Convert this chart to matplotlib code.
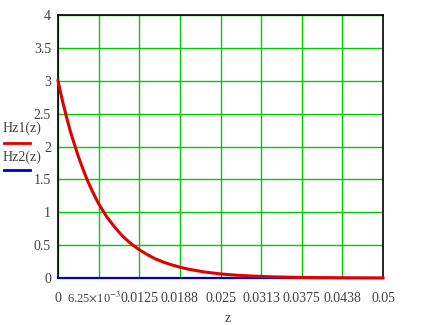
import matplotlib
matplotlib.use("Agg")
import matplotlib.pyplot as plt
import matplotlib.transforms as mtransforms
from matplotlib.lines import Line2D

# valori
z = [0.0, 0.000625, 0.00125, 0.001875, 0.0025, 0.003125, 0.00375, 0.004375,
     0.005, 0.005625, 0.00625, 0.006875, 0.0075, 0.008125, 0.00875, 0.009375,
     0.01, 0.01125, 0.0125, 0.01375, 0.015, 0.01625, 0.0175, 0.01875, 0.02,
     0.0225, 0.025, 0.0275, 0.03, 0.0325, 0.035, 0.0375, 0.04, 0.045, 0.05]
hz1 = [3.0, 2.72, 2.47, 2.24, 2.04, 1.85, 1.68, 1.52,
       1.38, 1.25, 1.13, 1.03, 0.93, 0.85, 0.77, 0.70,
       0.63, 0.52, 0.43, 0.355, 0.29, 0.24, 0.20, 0.165, 0.135,
       0.092, 0.062, 0.042, 0.029, 0.019, 0.013, 0.009, 0.006, 0.003, 0.001]
hz2 = [0.0] * len(z)

xticks = [0, 0.00625, 0.0125, 0.01875, 0.025, 0.03125, 0.0375, 0.04375, 0.05]
xticklabels = ["0", r"6.25$\times$10$^{-3}$", "0.0125", "0.0188", "0.025",
               "0.0313", "0.0375", "0.0438", "0.05"]
yticks = [0, 0.5, 1, 1.5, 2, 2.5, 3, 3.5, 4]
yticklabels = ["0", "0.5", "1", "1.5", "2", "2.5", "3", "3.5", "4"]

plt.rcParams['font.family'] = ['Liberation Serif', 'DejaVu Serif']
plt.rcParams['mathtext.fontset'] = 'stix'

txt = '#404040'
fig = plt.figure(figsize=(4.24, 3.25), dpi=100)
ax = fig.add_axes([58 / 424, 47 / 325, 325 / 424, 263 / 325])

ax.plot(z, hz2, color='#0000c0', lw=1.6, zorder=3, clip_on=False)
ax.plot(z, hz1, color='#e00000', lw=2.2, zorder=4, clip_on=False)

ax.set_xlim(0, 0.05)
ax.set_ylim(0, 4)
ax.set_xticks(xticks)
ax.set_xticklabels(xticklabels, va='baseline')
ax.set_yticks(yticks)
ax.set_yticklabels(yticklabels)
ax.tick_params(axis='both', length=0, labelsize=10, labelcolor=txt)
ax.tick_params(axis='x', pad=17)
ax.tick_params(axis='y', pad=5)
# etichetta 6.25e-3 piu' piccola e spostata a sinistra per non coprire 0.0125
lab = ax.get_xticklabels()[1]
lab.set_fontsize(9)
lab.set_transform(lab.get_transform() +
                  mtransforms.ScaledTranslation(-4 / 100, 0, fig.dpi_scale_trans))
ax.grid(True, color='#00cc00', lw=1)
ax.set_axisbelow(True)
for s in ax.spines.values():
    s.set_color('black')
    s.set_linewidth(1.2)

fig.text(228 / 424, 1 - 318 / 325, "z", fontsize=10, color=txt,
         ha='center', va='center')

# legenda a sinistra, stile Mathcad
fig.text(22 / 424, 1 - 128 / 325, "Hz1(z)", fontsize=10, color=txt,
         ha='center', va='center')
fig.add_artist(Line2D([4 / 424, 30 / 424], [1 - 143 / 325] * 2,
                      color='#e00000', lw=2, transform=fig.transFigure))
fig.text(22 / 424, 1 - 157 / 325, "Hz2(z)", fontsize=10, color=txt,
         ha='center', va='center')
fig.add_artist(Line2D([4 / 424, 30 / 424], [1 - 170 / 325] * 2,
                      color='#0000c0', lw=2, transform=fig.transFigure))

fig.savefig("out.png", dpi=100)
